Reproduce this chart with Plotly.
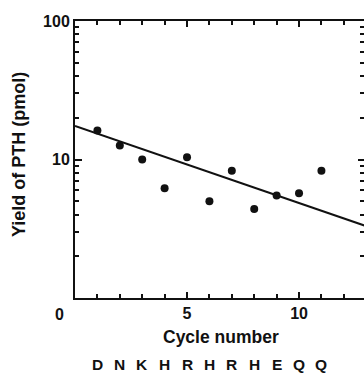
import plotly.graph_objects as go

# Data
cycles = [1, 2, 3, 4, 5, 6, 7, 8, 9, 10, 11]
yield_pmol = [16.2, 12.6, 10.0, 6.2, 10.4, 5.0, 8.3, 4.4, 5.5, 5.7, 8.3]
residues = ["D", "N", "K", "H", "R", "H", "R", "H", "E", "Q", "Q"]
fit_x = [0, 13]
fit_y = [17.5, 3.3]
x_tick_vals = [5, 10]
x_tick_text = ["5", "10"]
y_tick_vals = [10, 100]
y_tick_text = ["10", "100"]
y_minor_vals = [2, 3, 4, 5, 6, 7, 8, 9, 20, 30, 40, 50, 60, 70, 80, 90]

FONT = "Liberation Sans, Arial, sans-serif"
BLACK = "#111111"

fig = go.Figure()
fig.add_trace(go.Scatter(x=fit_x, y=fit_y, mode="lines",
                         line=dict(color=BLACK, width=2), showlegend=False,
                         cliponaxis=True))
fig.add_trace(go.Scatter(x=cycles, y=yield_pmol, mode="markers",
                         marker=dict(color=BLACK, size=8), showlegend=False))
# invisible trace for right-hand ticks axis
fig.add_trace(go.Scatter(x=[cycles[0]], y=[yield_pmol[0]], yaxis="y2",
                         mode="markers", marker=dict(opacity=0),
                         showlegend=False, hoverinfo="skip"))

fig.update_layout(
    width=364, height=375,
    margin=dict(l=75, r=0, t=21, b=77),
    paper_bgcolor="white", plot_bgcolor="white",
    font=dict(family=FONT, color=BLACK, size=16, weight="bold"),
    xaxis=dict(range=[0, 12.9], showgrid=False, zeroline=False,
               showline=True, linecolor=BLACK, linewidth=2, mirror="ticks",
               ticks="inside", ticklen=6, tickwidth=2, tickcolor=BLACK,
               tickvals=x_tick_vals, ticktext=x_tick_text,
               tickfont=dict(family=FONT, size=16, color=BLACK, weight="bold"),
               minor=dict(dtick=1, tick0=0, ticks="inside", ticklen=4,
                          tickwidth=1.5, tickcolor=BLACK, showgrid=False)),
    yaxis=dict(type="log", range=[0, 2], showgrid=False, zeroline=False,
               showline=True, linecolor=BLACK, linewidth=2, mirror=False,
               ticks="inside", ticklen=7, tickwidth=2, tickcolor=BLACK,
               tickvals=y_tick_vals, ticktext=y_tick_text,
               tickfont=dict(family=FONT, size=16, color=BLACK, weight="bold"),
               minor=dict(tickvals=y_minor_vals, ticks="inside", ticklen=4,
                          tickwidth=1.5, tickcolor=BLACK, showgrid=False)),
    yaxis2=dict(type="log", range=[0, 2], overlaying="y", side="right",
                anchor="x", showgrid=False, zeroline=False, showline=False,
                ticks="inside", ticklen=6, tickwidth=2, tickcolor=BLACK,
                tickvals=y_tick_vals, showticklabels=False,
                minor=dict(tickvals=y_minor_vals, ticks="inside", ticklen=4,
                           tickwidth=1.5, tickcolor=BLACK, showgrid=False)),
)

# pixel-position annotations converted to paper coords
pl, pr, pt, pb = 75, 364, 21, 298
def px2paper(px, py):
    return (px - pl) / (pr - pl), (pb - py) / (pb - pt)

anns = []
x0, y0 = px2paper(66, 314)
anns.append(dict(text="0", xref="paper", yref="paper", x=x0, y=y0,
                 showarrow=False, xanchor="right", yanchor="middle",
                 font=dict(family=FONT, size=16, color=BLACK, weight="bold")))
x1, y1 = px2paper(221, 337)
anns.append(dict(text="Cycle number", xref="paper", yref="paper", x=x1, y=y1,
                 showarrow=False, xanchor="center", yanchor="middle",
                 font=dict(family=FONT, size=17.5, color=BLACK, weight="bold")))
x2, y2 = px2paper(19, 155)
anns.append(dict(text="Yield of PTH (pmol)", xref="paper", yref="paper",
                 x=x2, y=y2, textangle=-90,
                 showarrow=False, xanchor="center", yanchor="middle",
                 font=dict(family=FONT, size=18, color=BLACK, weight="bold")))

_, yl = px2paper(0, 364)
for c, r in zip(cycles, residues):
    anns.append(dict(text=r, x=c, xref="x", y=yl, yref="paper",
                     showarrow=False, xanchor="center", yanchor="middle",
                     font=dict(family=FONT, size=15.5, color=BLACK, weight="bold")))

fig.update_layout(annotations=anns)
fig.write_html("out.html")
